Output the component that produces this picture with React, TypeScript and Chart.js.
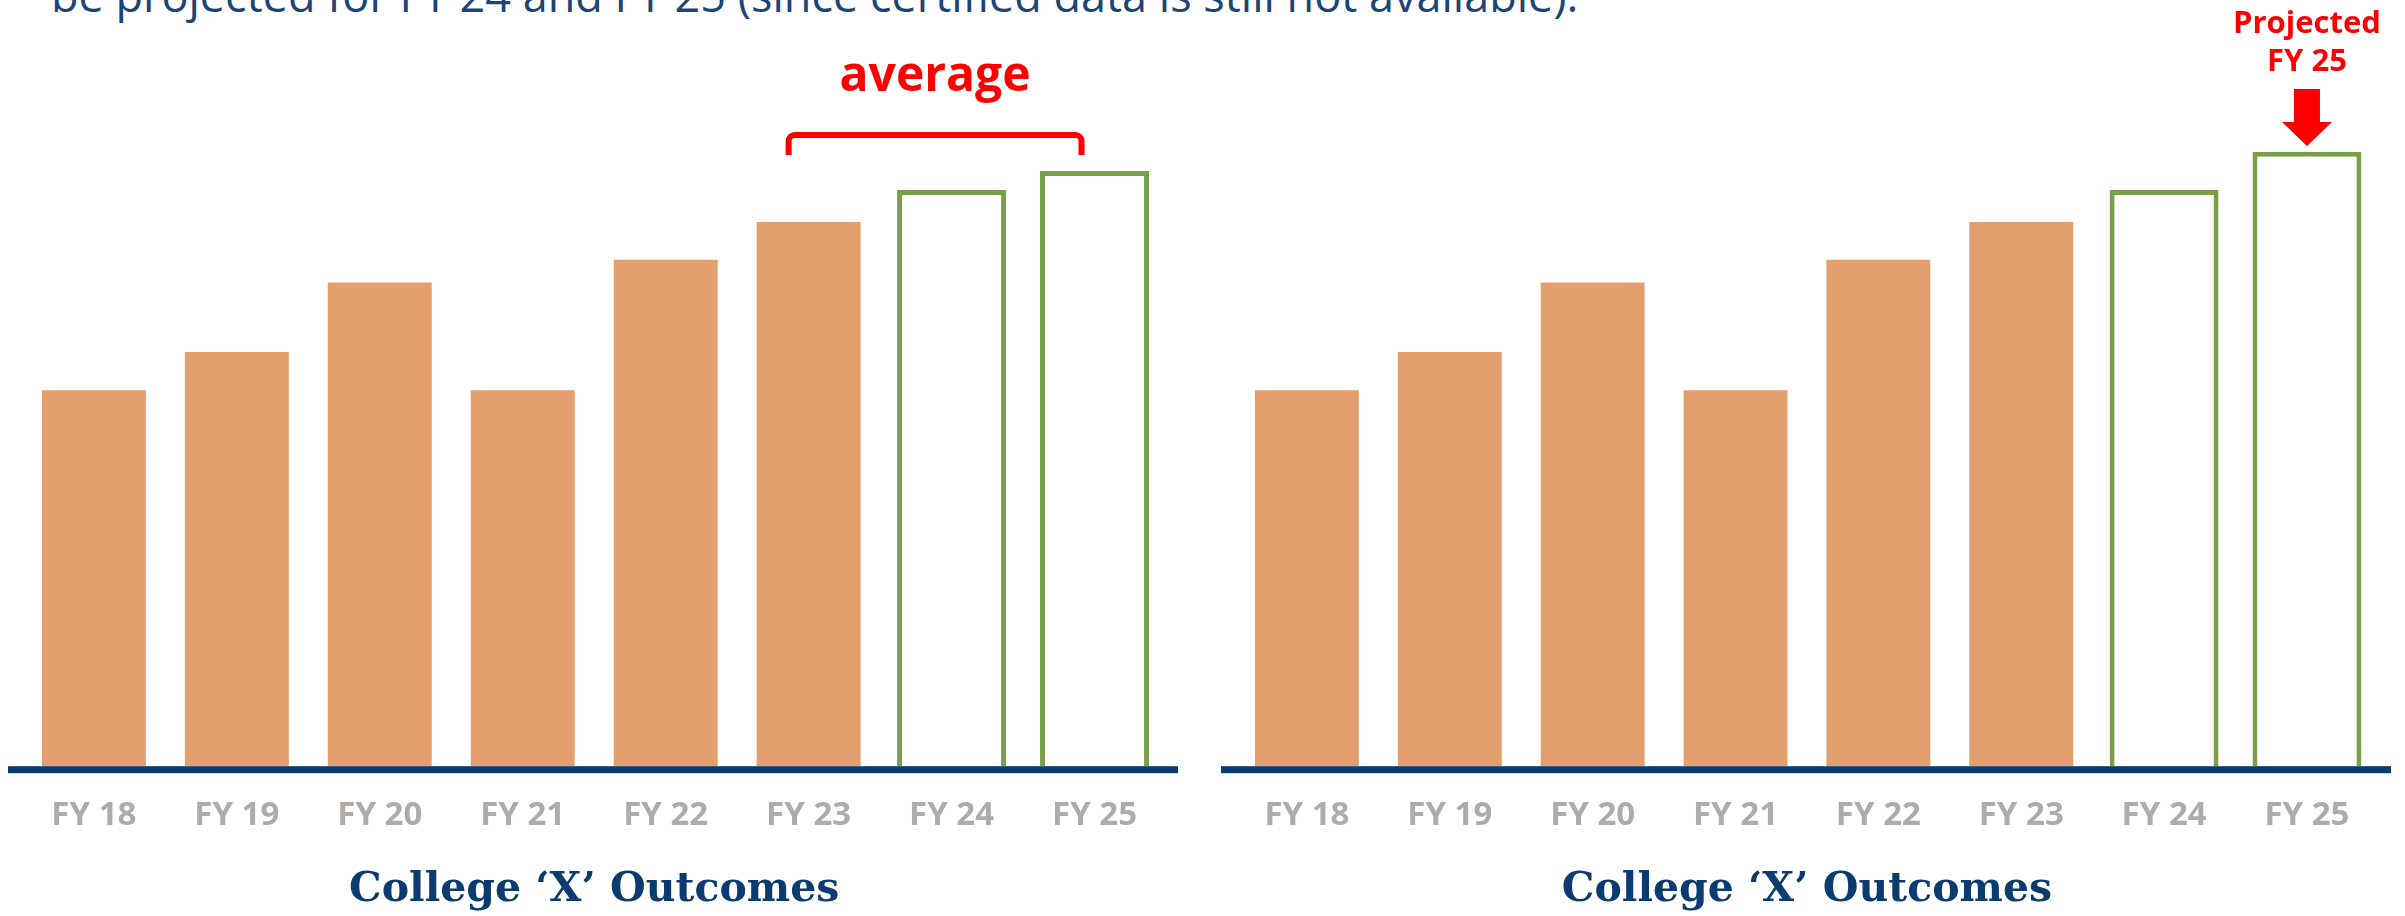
import React, { useEffect, useRef } from 'react';
import { Chart, registerables } from 'chart.js';

Chart.register(...registerables);

// ---------- data ----------
const categories = ['FY 18', 'FY 19', 'FY 20', 'FY 21', 'FY 22', 'FY 23', 'FY 24', 'FY 25'];
const certifiedValues = [61.0, 67.2, 78.5, 61.0, 82.2, 88.3]; // FY 18 – FY 23
const projectedAverageValues = [93.5, 96.6]; // FY 24, FY 25 (left panel)
const projectedTrendValues = [93.5, 99.7]; // FY 24, FY 25 (right panel)
const yMax = 100;

const chartTitle = 'College \u2018X\u2019 Outcomes';
const introText = 'be projected for FY 24 and FY 25 (since certified data is still not available).';
const averageLabel = 'average';
const projectedLabelLines = ['Projected', 'FY 25'];

// ---------- styles ----------
const ORANGE = '#E49F6E';
const GREEN = '#7A9E4A';
const NAVY = '#0B3B6F';
const GRAY = '#AEABA9';
const RED = '#FF0000';

const W = 2405;
const H = 916;

type Panel = {
  left: number;
  width: number;
  projected: number[];
  pad: { left: number; right: number };
  axisLine: [number, number];
  kind: 'average' | 'projected';
};

const panels: Panel[] = [
  { left: 0, width: 1200, projected: projectedAverageValues, pad: { left: 22.4, right: 34 }, axisLine: [8, 1178], kind: 'average' },
  { left: 1200, width: 1205, projected: projectedTrendValues, pad: { left: 35.5, right: 26.6 }, axisLine: [21, 1191], kind: 'projected' },
];

function buildConfig(p: Panel): any {
  const n = categories.length;
  const certData = categories.map((_, i) => (i < certifiedValues.length ? certifiedValues[i] : null));
  const projData = categories.map((_, i) =>
    i >= certifiedValues.length ? p.projected[i - certifiedValues.length] : null
  );

  const annot = {
    id: 'annot_' + p.kind,
    afterDatasetsDraw(chart: any) {
      const ctx = chart.ctx as CanvasRenderingContext2D;
      const area = chart.chartArea;
      const xs = chart.scales.x;
      ctx.save();
      // axis base line
      ctx.fillStyle = NAVY;
      ctx.fillRect(p.axisLine[0], area.bottom, p.axisLine[1] - p.axisLine[0], 7);

      if (p.kind === 'average') {
        const L = xs.getPixelForValue(certifiedValues.length - 1) - 20;
        const R = xs.getPixelForValue(n - 1) - 13;
        const top = area.top - 15;
        const bot = area.top + 5;
        const r = 6;
        ctx.strokeStyle = RED;
        ctx.lineWidth = 6;
        ctx.lineJoin = 'round';
        ctx.beginPath();
        ctx.moveTo(L, bot);
        ctx.arcTo(L, top, L + r, top, r);
        ctx.arcTo(R, top, R, top + r, r);
        ctx.lineTo(R, bot);
        ctx.stroke();
        ctx.fillStyle = RED;
        ctx.font = '700 48px "Open Sans"';
        ctx.textAlign = 'center';
        ctx.textBaseline = 'alphabetic';
        ctx.fillText(averageLabel, (L + R) / 2, 91);
      } else {
        const cx = xs.getPixelForValue(n - 1);
        ctx.fillStyle = RED;
        ctx.font = '700 31px "Open Sans"';
        ctx.textAlign = 'center';
        ctx.textBaseline = 'alphabetic';
        ctx.fillText(projectedLabelLines[0], cx, 33);
        ctx.fillText(projectedLabelLines[1], cx, 71);
        // arrow
        ctx.beginPath();
        ctx.moveTo(cx - 13, 89);
        ctx.lineTo(cx + 13, 89);
        ctx.lineTo(cx + 13, 122);
        ctx.lineTo(cx + 25, 122);
        ctx.lineTo(cx, 146);
        ctx.lineTo(cx - 25, 122);
        ctx.lineTo(cx - 13, 122);
        ctx.closePath();
        ctx.fill();
      }
      ctx.restore();
    },
  };

  return {
    type: 'bar',
    data: {
      labels: categories,
      datasets: [
        {
          label: 'Certified',
          data: certData,
          backgroundColor: ORANGE,
          borderWidth: 0,
          barPercentage: 0.7275,
          categoryPercentage: 1,
          grouped: false,
        },
        {
          label: 'Projected',
          data: projData,
          backgroundColor: '#FFFFFF',
          borderColor: GREEN,
          borderWidth: 5,
          borderSkipped: 'bottom',
          barPercentage: 0.7625,
          categoryPercentage: 1,
          grouped: false,
        },
      ],
    },
    options: {
      animation: false,
      responsive: false,
      maintainAspectRatio: false,
      layout: { padding: { top: 150, bottom: 0, left: p.pad.left, right: p.pad.right } },
      plugins: {
        legend: { display: false },
        tooltip: { enabled: false },
        title: {
          display: true,
          text: chartTitle,
          position: 'bottom',
          fullSize: false,
          color: NAVY,
          font: { family: '"DejaVu Serif", serif', size: 41, weight: 'bold', lineHeight: 1.2 },
          padding: { top: 1, bottom: 1 },
        },
      },
      scales: {
        x: {
          offset: true,
          grid: { display: false, drawTicks: false },
          border: { display: false },
          ticks: {
            color: GRAY,
            padding: 29.5,
            font: { family: '"Open Sans"', size: 33, weight: 'bold', lineHeight: 1.2 },
            maxRotation: 0,
            autoSkip: false,
          },
        },
        y: {
          display: false,
          min: 0,
          max: yMax,
          grid: { display: false },
        },
      },
    },
    plugins: [annot],
  };
}

function ChartPanel({ panel }: { panel: Panel }) {
  const ref = useRef<HTMLCanvasElement | null>(null);
  useEffect(() => {
    if (!ref.current) return;
    const chart = new Chart(ref.current, buildConfig(panel));
    return () => chart.destroy();
  }, [panel]);
  return (
    <canvas
      ref={ref}
      width={panel.width}
      height={H}
      style={{ position: 'absolute', left: panel.left, top: 0, width: panel.width, height: H }}
    />
  );
}

export default function App() {
  return (
    <div
      style={{
        position: 'fixed',
        left: 0,
        top: 0,
        width: W,
        height: H,
        overflow: 'hidden',
        background: '#FFFFFF',
      }}
    >
      <div
        style={{
          position: 'absolute',
          left: 51,
          top: -28,
          fontFamily: '"Open Sans", sans-serif',
          fontSize: 45,
          lineHeight: '45px',
          color: '#1A4576',
          whiteSpace: 'nowrap',
        }}
      >
        {introText}
      </div>
      {panels.map((p) => (
        <ChartPanel key={p.kind} panel={p} />
      ))}
    </div>
  );
}
